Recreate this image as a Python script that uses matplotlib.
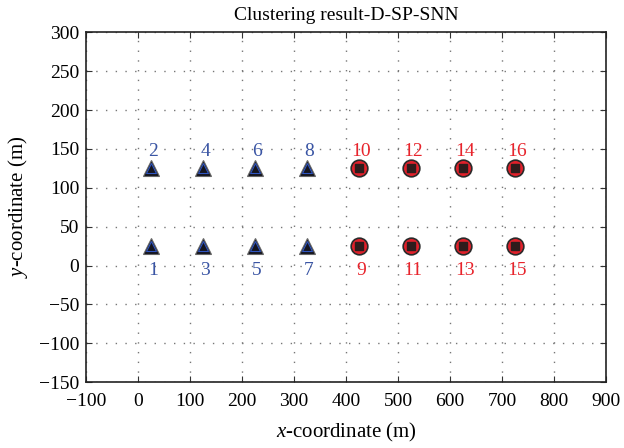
import matplotlib
matplotlib.use('Agg')
import matplotlib.pyplot as plt

# node positions
blue_x = [25, 25, 125, 125, 225, 225, 325, 325]
blue_y = [25, 125, 25, 125, 25, 125, 25, 125]
blue_ids = [1, 2, 3, 4, 5, 6, 7, 8]
red_x = [425, 425, 525, 525, 625, 625, 725, 725]
red_y = [25, 125, 25, 125, 25, 125, 25, 125]
red_ids = [9, 10, 11, 12, 13, 14, 15, 16]

plt.rcParams['font.family'] = ['Liberation Serif', 'DejaVu Serif']
plt.rcParams['mathtext.fontset'] = 'custom'
plt.rcParams['mathtext.it'] = 'Liberation Serif:italic'
plt.rcParams['mathtext.rm'] = 'Liberation Serif'

fig = plt.figure(figsize=(6.24, 4.48), dpi=100)
ax = fig.add_axes([0.138, 0.147, 0.833, 0.781])

blue_txt = '#3a55a4'
red_txt = '#e8242c'

# triangles (cluster 1)
ax.plot(blue_x, blue_y, linestyle='none', marker='^', markersize=12,
        markerfacecolor='#15151f', markeredgecolor='#666666', markeredgewidth=0.8, zorder=3)
ax.plot(blue_x, blue_y, linestyle='none', marker='^', markersize=6.5,
        markerfacecolor='none', markeredgecolor='#2f55c0', markeredgewidth=0.8, zorder=4)

# circles (cluster 2)
ax.plot(red_x, red_y, linestyle='none', marker='o', markersize=12,
        markerfacecolor='#e0202a', markeredgecolor='#2a2a2a', markeredgewidth=1.2, zorder=3)
ax.plot(red_x, red_y, linestyle='none', marker='s', markersize=5.5,
        markerfacecolor='#2e1c1c', markeredgecolor='#2e1c1c', zorder=4)

for x, y, n in zip(blue_x, blue_y, blue_ids):
    dy = -32 if y < 100 else 21
    ax.text(x + 4, y + dy, str(n), color=blue_txt, fontsize=14, ha='center', va='center')
for x, y, n in zip(red_x, red_y, red_ids):
    dy = -32 if y < 100 else 21
    ax.text(x + 4, y + dy, str(n), color=red_txt, fontsize=14, ha='center', va='center')

ax.set_xlim(-100, 900)
ax.set_ylim(-150, 300)
ax.set_xticks(range(-100, 901, 100))
ax.set_yticks(range(-150, 301, 50))
ax.set_xticklabels(['\u2212100'] + [str(v) for v in range(0, 901, 100)])
ax.set_yticklabels(['\u2212150', '\u2212100', '\u221250'] + [str(v) for v in range(0, 301, 50)])
ax.tick_params(direction='in', top=True, right=True, labelsize=14, length=4, color='#333333')
ax.tick_params(axis='x', pad=8)
ax.tick_params(axis='y', pad=5)
ax.grid(True, linestyle=(0, (1, 6)), color='#777777', linewidth=1.0)
for s in ax.spines.values():
    s.set_color('#222222')
    s.set_linewidth(1.2)

ax.set_title('Clustering result-D-SP-SNN', fontsize=14, pad=9)
ax.set_xlabel('$x$-coordinate (m)', fontsize=15, labelpad=8)
ax.set_ylabel('$y$-coordinate (m)', fontsize=15, labelpad=6)

fig.savefig('out.png', dpi=100)
